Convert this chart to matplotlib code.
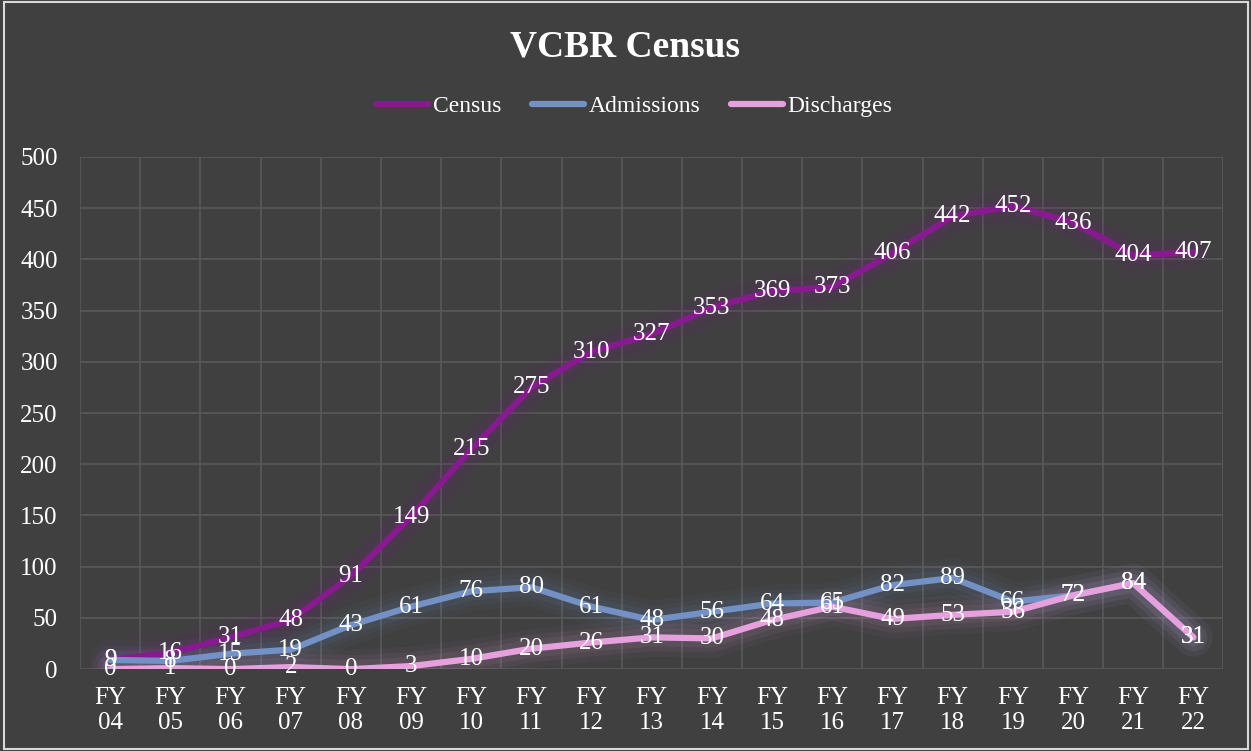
import matplotlib.pyplot as plt

plt.rcParams['font.family'] = ['Liberation Serif', 'DejaVu Serif']

# Données
years = ['FY\n04', 'FY\n05', 'FY\n06', 'FY\n07', 'FY\n08', 'FY\n09', 'FY\n10', 'FY\n11', 'FY\n12', 'FY\n13',
         'FY\n14', 'FY\n15', 'FY\n16', 'FY\n17', 'FY\n18', 'FY\n19', 'FY\n20', 'FY\n21', 'FY\n22']
census = [9, 16, 31, 48, 91, 149, 215, 275, 310, 327, 353, 369, 373, 406, 442, 452, 436, 404, 407]
admissions = [9, 8, 15, 19, 43, 61, 76, 80, 61, 48, 56, 64, 65, 82, 89, 66, 72, 84, 31]
discharges = [0, 1, 0, 2, 0, 3, 10, 20, 26, 31, 30, 48, 61, 49, 53, 56, 72, 84, 31]

bg = '#404040'
series = [('Census', census, '#861A8E'),
          ('Admissions', admissions, '#7391C5'),
          ('Discharges', discharges, '#E6A0DE')]

fig = plt.figure(figsize=(12.51, 7.51), dpi=100, facecolor=bg)
ax = fig.add_axes([0.064, 0.109, 0.914, 0.682])
ax.set_facecolor(bg)

x = list(range(len(years)))
for name, vals, col in series:
    # effet lumineux
    for lw, a in [(28, 0.04), (20, 0.06), (13, 0.08)]:
        ax.plot(x, vals, color=col, linewidth=lw, alpha=a, solid_capstyle='round',
                solid_joinstyle='round', zorder=2)
    ax.plot(x, vals, color=col, linewidth=4.5, solid_capstyle='round', label=name, zorder=3)

for name, vals, col in series:
    for xi, v in zip(x, vals):
        ax.text(xi, v, str(v), ha='center', va='center', color='white', fontsize=18, zorder=5)

ax.set_xlim(-0.5, len(years) - 0.5)
ax.set_ylim(0, 500)
ax.set_yticks(range(0, 501, 50))
ax.set_xticks(x)
ax.set_xticklabels(years, linespacing=1.15)
ax.set_xticks([i - 0.5 for i in range(len(years) + 1)], minor=True)
ax.grid(True, which='major', axis='y', color='#595959', linewidth=1.2)
ax.grid(True, which='minor', axis='x', color='#595959', linewidth=1.2)
ax.tick_params(axis='both', which='both', length=0, colors='white', labelsize=18)
ax.tick_params(axis='x', pad=13)
ax.tick_params(axis='y', pad=16)
for s in ax.spines.values():
    s.set_visible(False)
ax.set_axisbelow(True)

fig.text(0.5, 0.938, 'VCBR Census', ha='center', va='center', color='white', fontsize=27, fontweight='bold')
leg = fig.legend(loc='center', bbox_to_anchor=(0.507, 0.858), ncol=3, frameon=False, fontsize=17,
                 handlelength=2.2, handletextpad=0.2, columnspacing=1.3, labelcolor='white')

fig.patches.append(plt.Rectangle((0.003, 0.002), 0.995, 0.995, transform=fig.transFigure,
                                 fill=False, edgecolor='#d9d9d9', linewidth=1.5))

plt.savefig('out.png', dpi=100, facecolor=bg)
